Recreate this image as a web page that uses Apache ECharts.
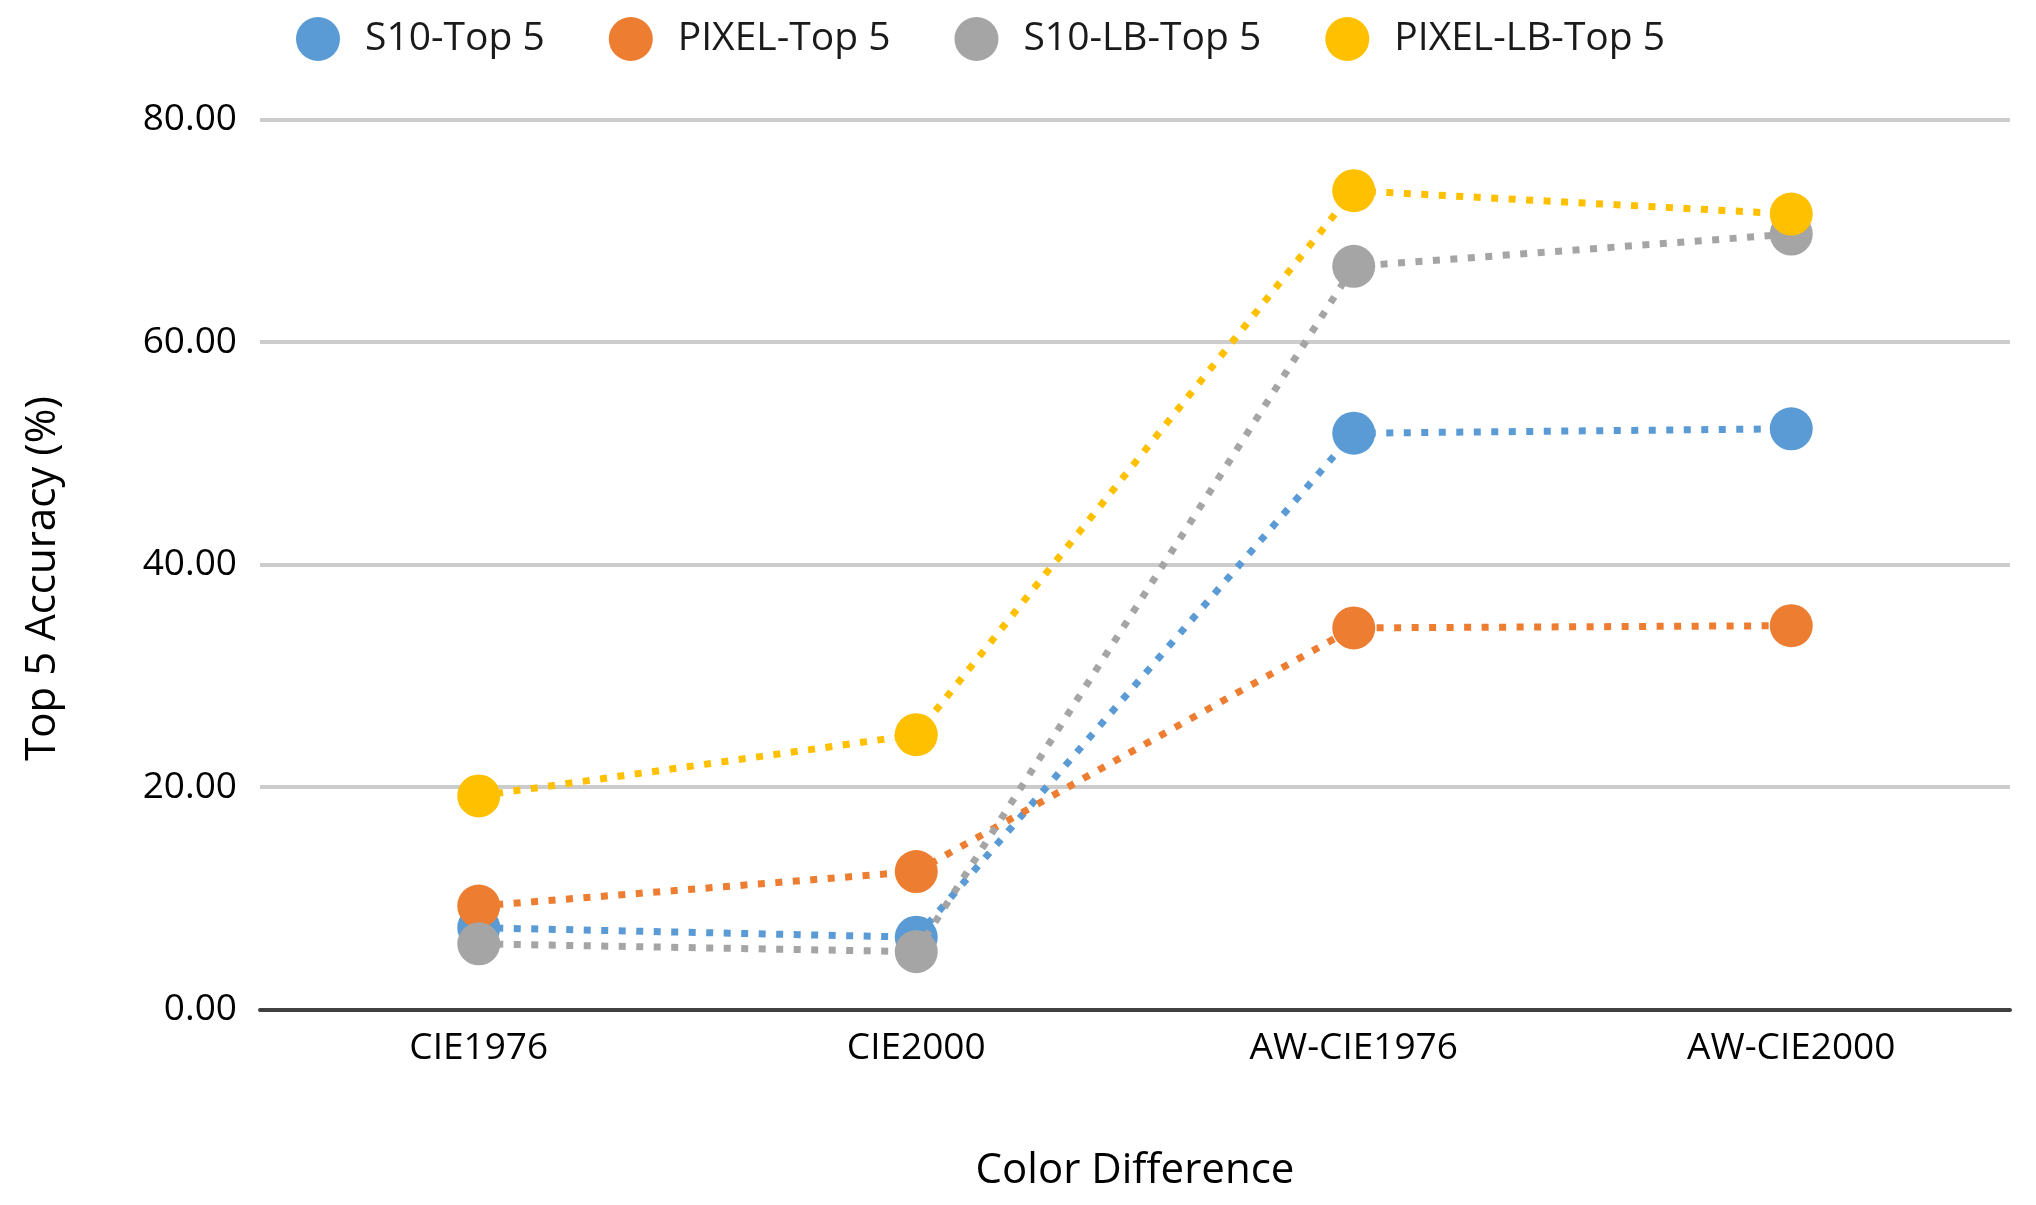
<!DOCTYPE html>
<html>
<head>
<meta charset="utf-8">
<script src="https://cdn.jsdelivr.net/npm/echarts@6/dist/echarts.min.js"></script>
<style>
html,body{margin:0;padding:0;background:#fff;}
#chart{width:2036px;height:1205px;}
</style>
</head>
<body>
<div id="chart"></div>
<script>
const categories = ['CIE1976', 'CIE2000', 'AW-CIE1976', 'AW-CIE2000'];
const seriesNames = ['S10-Top 5', 'PIXEL-Top 5', 'S10-LB-Top 5', 'PIXEL-LB-Top 5'];
const s10Top5 = [7.35, 6.5, 51.8, 52.2];
const pixelTop5 = [9.3, 12.4, 34.3, 34.5];
const s10LbTop5 = [5.9, 5.2, 66.8, 69.7];
const pixelLbTop5 = [19.2, 24.7, 73.6, 71.5];
const yTicks = [0, 20, 40, 60, 80];
const colors = ['#5B9BD5', '#ED7D31', '#A5A5A5', '#FFC000'];

const FONT = 'Open Sans';
const values = [s10Top5, pixelTop5, s10LbTop5, pixelLbTop5];

const chart = echarts.init(document.getElementById('chart'));
chart.setOption({
  animation: false,
  color: colors,
  textStyle: { fontFamily: FONT },
  legend: {
    top: 12,
    left: 291,
    itemWidth: 44,
    itemHeight: 44,
    itemGap: 64,
    icon: 'circle',
    textStyle: { fontFamily: FONT, fontSize: 39, color: '#1a1a1a', padding: [0, 0, 0, 20] },
    data: seriesNames
  },
  grid: { left: 260, right: 26, top: 119.5, bottom: 195.5, containLabel: false },
  xAxis: {
    type: 'category',
    data: categories,
    boundaryGap: true,
    name: 'Color Difference',
    nameLocation: 'middle',
    nameGap: 141,
    nameTextStyle: { fontFamily: FONT, fontSize: 42, color: '#000' },
    axisLine: { lineStyle: { color: '#404040', width: 4 } },
    axisTick: { show: false },
    axisLabel: { fontFamily: FONT, fontSize: 37, color: '#000', margin: 20 }
  },
  yAxis: {
    type: 'value',
    min: yTicks[0],
    max: yTicks[yTicks.length - 1],
    interval: 20,
    name: 'Top 5 Accuracy (%)',
    nameLocation: 'middle',
    nameGap: 196,
    nameRotate: 90,
    nameTextStyle: { fontFamily: FONT, fontSize: 42, color: '#000', padding: [0, 28, 0, 0] },
    axisLine: { show: false },
    axisTick: { show: false },
    splitLine: { lineStyle: { color: '#CCCCCC', width: 4 } },
    axisLabel: {
      fontFamily: FONT, fontSize: 37, color: '#000', margin: 23,
      formatter: v => v.toFixed(2)
    }
  },
  series: seriesNames.map((name, i) => ({
    name: name,
    type: 'line',
    data: values[i],
    symbol: 'circle',
    symbolSize: 43,
    itemStyle: { color: colors[i] },
    lineStyle: { color: colors[i], width: 7, type: [7, 10.5], cap: 'butt' },
    z: 2 + i
  }))
});
</script>
</body>
</html>
